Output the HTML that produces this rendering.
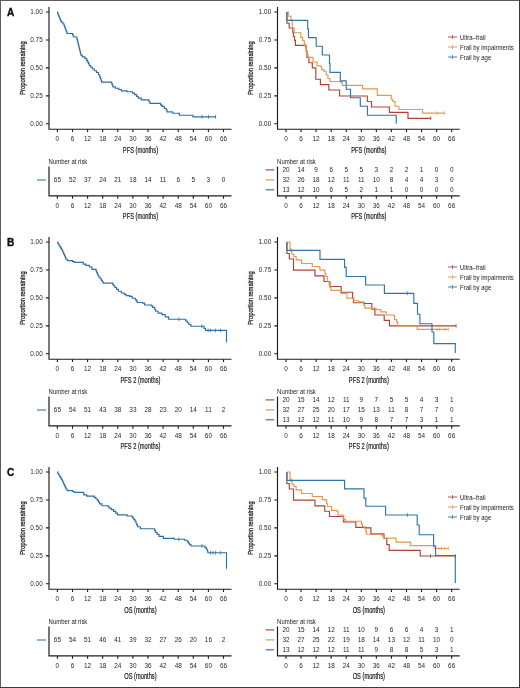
<!DOCTYPE html>
<html><head><meta charset="utf-8"><style>
html,body{margin:0;padding:0;background:#fff;}
svg{display:block;will-change:transform;}
text{font-family:"Liberation Sans", sans-serif;}
</style></head><body>
<svg width="520" height="688" viewBox="0 0 520 688">
<rect x="0" y="0" width="520" height="688" fill="#fff"/>
<text x="6.9" y="15.9" font-size="10.1" font-weight="bold" fill="#111" stroke="#111" stroke-width="0.35">A</text>
<path d="M49 7 V129.25 H231.5" fill="none" stroke="#1c1c1c" stroke-width="1.15"/>
<text x="42.7" y="14.3" font-size="6.35" text-anchor="end" fill="#282828" font-weight="normal" >1.00</text>
<text x="42.7" y="42.25" font-size="6.35" text-anchor="end" fill="#282828" font-weight="normal" >0.75</text>
<text x="42.7" y="70.2" font-size="6.35" text-anchor="end" fill="#282828" font-weight="normal" >0.50</text>
<text x="42.7" y="98.15" font-size="6.35" text-anchor="end" fill="#282828" font-weight="normal" >0.25</text>
<text x="42.7" y="126.1" font-size="6.35" text-anchor="end" fill="#282828" font-weight="normal" >0.00</text>
<text x="57.4" y="141" font-size="6.4" text-anchor="middle" fill="#282828" font-weight="normal" >0</text>
<text x="72.5" y="141" font-size="6.4" text-anchor="middle" fill="#282828" font-weight="normal" >6</text>
<text x="87.6" y="141" font-size="6.4" text-anchor="middle" fill="#282828" font-weight="normal" >12</text>
<text x="102.7" y="141" font-size="6.4" text-anchor="middle" fill="#282828" font-weight="normal" >18</text>
<text x="117.8" y="141" font-size="6.4" text-anchor="middle" fill="#282828" font-weight="normal" >24</text>
<text x="132.9" y="141" font-size="6.4" text-anchor="middle" fill="#282828" font-weight="normal" >30</text>
<text x="148" y="141" font-size="6.4" text-anchor="middle" fill="#282828" font-weight="normal" >36</text>
<text x="163.1" y="141" font-size="6.4" text-anchor="middle" fill="#282828" font-weight="normal" >42</text>
<text x="178.2" y="141" font-size="6.4" text-anchor="middle" fill="#282828" font-weight="normal" >48</text>
<text x="193.3" y="141" font-size="6.4" text-anchor="middle" fill="#282828" font-weight="normal" >54</text>
<text x="208.4" y="141" font-size="6.4" text-anchor="middle" fill="#282828" font-weight="normal" >60</text>
<text x="223.5" y="141" font-size="6.4" text-anchor="middle" fill="#282828" font-weight="normal" >66</text>
<path d="M45.8 12 H49 M45.8 39.95 H49 M45.8 67.9 H49 M45.8 95.85 H49 M45.8 123.8 H49 M57.4 129.25 V132.05 M72.5 129.25 V132.05 M87.6 129.25 V132.05 M102.7 129.25 V132.05 M117.8 129.25 V132.05 M132.9 129.25 V132.05 M148 129.25 V132.05 M163.1 129.25 V132.05 M178.2 129.25 V132.05 M193.3 129.25 V132.05 M208.4 129.25 V132.05 M223.5 129.25 V132.05" stroke="#1c1c1c" stroke-width="1.1" fill="none"/>
<text transform="translate(140.45 152.6) scale(0.68 1)" x="0" y="0" font-size="8.4" text-anchor="middle" fill="#222" font-weight="normal" stroke="#222" stroke-width="0.22">PFS (months)</text>
<text transform="translate(24.7 68) rotate(-90) scale(0.737 1)" font-size="7.85" text-anchor="middle" fill="#222" stroke="#222" stroke-width="0.3">Proportion remaining</text>
<path d="M57.3 11.9 H57.62 V13.48 H58.27 V15.07 H58.92 V16.65 H59.58 V18.23 H60.23 V19.82 H60.88 V21.4 H61.2 H61.85 V22.7 H63.15 V24 H63.8 H64.09 V25.58 H64.67 V27.17 H65.26 V28.75 H65.84 V30.33 H66.42 V31.92 H67.01 V33.5 H67.3 H72.5 V34.4 H72.92 V35.7 H73.78 V37 H74.2 H76.8 V37.9 H77.02 V39.63 H77.44 V41.36 H77.88 V43.09 H78.3 V44.82 H78.73 V46.55 H79.16 V48.28 H79.59 V50.01 H80.02 V51.74 H80.45 V53.47 H80.88 V55.2 H81.1 H82.4 V56.9 H85 V58.6 H86.3 H86.74 V60.33 H87.61 V62.05 H88.49 V63.77 H89.36 V65.5 H89.8 H90.67 V67.25 H92.42 V69 H93.3 H94.38 V70.75 H96.52 V72.5 H97.6 H98.45 V74.7 H99.3 H99.62 V76.55 H100.28 V78.4 H100.92 V80.25 H101.58 V82.1 H101.9 H111.4 H111.7 V83.67 H112.3 V85.23 H112.9 V86.8 H113.2 H115.35 V88.2 H117.5 H118.8 V89.5 H121.4 V90.8 H122.7 H127 V91.7 H131.3 H132.4 V93.15 H134.6 V94.6 H135.7 H136.55 V96.35 H138.25 V98.1 H139.1 H141.25 V99.8 H143.4 H148.6 V100.1 H149.05 V101.7 H149.95 V103.3 H150.4 H159.9 H160.6 V104.85 H162 V106.4 H162.7 H164.35 V108.5 H166 H166.35 V110.15 H167.05 V111.8 H167.4 H172.1 V112.2 H172.8 V113.2 H173.5 H178.8 V113.4 H179.35 V115.2 H179.9 H193 V116.8 H215.9" fill="none" stroke="#2c6fa8" stroke-width="1.15" stroke-linejoin="miter"/>
<path d="M202 114.9 V118.7 M208.5 114.9 V118.7 M215.6 114.9 V118.7" stroke="#2c6fa8" stroke-width="0.75" fill="none"/>
<path d="M277.5 7 V129.25 H459.7" fill="none" stroke="#1c1c1c" stroke-width="1.15"/>
<text x="271.2" y="14.3" font-size="6.35" text-anchor="end" fill="#282828" font-weight="normal" >1.00</text>
<text x="271.2" y="42.25" font-size="6.35" text-anchor="end" fill="#282828" font-weight="normal" >0.75</text>
<text x="271.2" y="70.2" font-size="6.35" text-anchor="end" fill="#282828" font-weight="normal" >0.50</text>
<text x="271.2" y="98.15" font-size="6.35" text-anchor="end" fill="#282828" font-weight="normal" >0.25</text>
<text x="271.2" y="126.1" font-size="6.35" text-anchor="end" fill="#282828" font-weight="normal" >0.00</text>
<text x="286" y="141" font-size="6.4" text-anchor="middle" fill="#282828" font-weight="normal" >0</text>
<text x="301.06" y="141" font-size="6.4" text-anchor="middle" fill="#282828" font-weight="normal" >6</text>
<text x="316.12" y="141" font-size="6.4" text-anchor="middle" fill="#282828" font-weight="normal" >12</text>
<text x="331.18" y="141" font-size="6.4" text-anchor="middle" fill="#282828" font-weight="normal" >18</text>
<text x="346.24" y="141" font-size="6.4" text-anchor="middle" fill="#282828" font-weight="normal" >24</text>
<text x="361.3" y="141" font-size="6.4" text-anchor="middle" fill="#282828" font-weight="normal" >30</text>
<text x="376.36" y="141" font-size="6.4" text-anchor="middle" fill="#282828" font-weight="normal" >36</text>
<text x="391.42" y="141" font-size="6.4" text-anchor="middle" fill="#282828" font-weight="normal" >42</text>
<text x="406.48" y="141" font-size="6.4" text-anchor="middle" fill="#282828" font-weight="normal" >48</text>
<text x="421.54" y="141" font-size="6.4" text-anchor="middle" fill="#282828" font-weight="normal" >54</text>
<text x="436.6" y="141" font-size="6.4" text-anchor="middle" fill="#282828" font-weight="normal" >60</text>
<text x="451.66" y="141" font-size="6.4" text-anchor="middle" fill="#282828" font-weight="normal" >66</text>
<path d="M274.3 12 H277.5 M274.3 39.95 H277.5 M274.3 67.9 H277.5 M274.3 95.85 H277.5 M274.3 123.8 H277.5 M286 129.25 V132.05 M301.06 129.25 V132.05 M316.12 129.25 V132.05 M331.18 129.25 V132.05 M346.24 129.25 V132.05 M361.3 129.25 V132.05 M376.36 129.25 V132.05 M391.42 129.25 V132.05 M406.48 129.25 V132.05 M421.54 129.25 V132.05 M436.6 129.25 V132.05 M451.66 129.25 V132.05" stroke="#1c1c1c" stroke-width="1.1" fill="none"/>
<text transform="translate(368.83 152.6) scale(0.68 1)" x="0" y="0" font-size="8.4" text-anchor="middle" fill="#222" font-weight="normal" stroke="#222" stroke-width="0.22">PFS (months)</text>
<text transform="translate(253.2 68) rotate(-90) scale(0.737 1)" font-size="7.85" text-anchor="middle" fill="#222" stroke="#222" stroke-width="0.3">Proportion remaining</text>
<path d="M286.9 12 V23.2 H289.2 V28 H292.3 H292.68 V32.25 H293.43 V36.5 H293.8 H294.6 V40.4 H295.4 V45.3 H305.4 H306.15 V51.2 H306.9 V57.3 H308.85 V62.7 H310 H312.3 V63.5 V67.8 H315.4 V68 V68 H315.8 V79.2 H320.4 V84.6 H328.8 V90 H339.6 V96 H367.3 V101.5 H371.5 V107 H389.4 V112.3 H408 V112.5 V118.3 H430.8" fill="none" stroke="#aa4438" stroke-width="1.15" stroke-linejoin="miter"/>
<path d="M430.8 116.4 V120.2" stroke="#aa4438" stroke-width="0.75" fill="none"/>
<path d="M286.9 12 H288.25 V16.2 H290.95 V20.4 H292.3 V28 H294.2 V32.7 H295.4 H300.8 V37.3 H302.65 V40.4 H303.8 H304.2 V43.1 H305 V45.8 H305.4 H305.77 V48.5 H306.52 V51.2 H306.9 H307.3 V54.25 H308.1 V57.3 H308.5 H313 V58 V62 H317 V62.7 V65.8 H320.8 V66.5 H321.55 V69.6 H322.3 H323.85 V71.2 H325.4 H326.2 V75 H327 H327.95 V78.25 H329.85 V81.5 H330.8 H340.8 V82.3 H342.3 V85.4 H343.8 H362.6 V88.8 H377.3 V95.4 H391.2 V99.2 H392.8 V101.5 H393.8 H395 V106.2 H396.2 H398.85 V109.5 H401.5 H422.5 V113.1 H444.6" fill="none" stroke="#e09a4e" stroke-width="1.15" stroke-linejoin="miter"/>
<path d="M436.9 111.2 V115 M444.6 111.2 V115" stroke="#e09a4e" stroke-width="0.75" fill="none"/>
<path d="M286.9 12 V20.4 H307.7 V28.8 V28.8 H308.5 V37.6 H316.2 V46.2 H322.3 V55 H329.5 V63.5 V63.5 H330 V72.3 H340.3 V80.8 H346.2 V89.2 H350.5 V97.7 H360.3 V106.2 H367.5 V115.2 H396.2 V123.8" fill="none" stroke="#2f74ae" stroke-width="1.15" stroke-linejoin="miter"/>
<path d="M448 37 H457" stroke="#aa4438" stroke-width="0.9" fill="none"/><path d="M452.5 35 V39" stroke="#aa4438" stroke-width="0.8" fill="none"/>
<text transform="translate(460 39.7) scale(0.935 1)" x="0" y="0" font-size="6.4" text-anchor="start" fill="#222" font-weight="normal" >Ultra–frail</text>
<path d="M448 47 H457" stroke="#e09a4e" stroke-width="0.9" fill="none"/><path d="M452.5 45 V49" stroke="#e09a4e" stroke-width="0.8" fill="none"/>
<text transform="translate(460 49.7) scale(0.935 1)" x="0" y="0" font-size="6.4" text-anchor="start" fill="#222" font-weight="normal" >Frail by impairments</text>
<path d="M448 57 H457" stroke="#2f74ae" stroke-width="0.9" fill="none"/><path d="M452.5 55 V59" stroke="#2f74ae" stroke-width="0.8" fill="none"/>
<text transform="translate(460 59.7) scale(0.935 1)" x="0" y="0" font-size="6.4" text-anchor="start" fill="#222" font-weight="normal" >Frail by age</text>
<path d="M49 166.5 V195.9 H231.5" fill="none" stroke="#1c1c1c" stroke-width="1.2"/>
<text x="57.4" y="207.8" font-size="6.4" text-anchor="middle" fill="#282828" font-weight="normal" >0</text>
<text x="72.5" y="207.8" font-size="6.4" text-anchor="middle" fill="#282828" font-weight="normal" >6</text>
<text x="87.6" y="207.8" font-size="6.4" text-anchor="middle" fill="#282828" font-weight="normal" >12</text>
<text x="102.7" y="207.8" font-size="6.4" text-anchor="middle" fill="#282828" font-weight="normal" >18</text>
<text x="117.8" y="207.8" font-size="6.4" text-anchor="middle" fill="#282828" font-weight="normal" >24</text>
<text x="132.9" y="207.8" font-size="6.4" text-anchor="middle" fill="#282828" font-weight="normal" >30</text>
<text x="148" y="207.8" font-size="6.4" text-anchor="middle" fill="#282828" font-weight="normal" >36</text>
<text x="163.1" y="207.8" font-size="6.4" text-anchor="middle" fill="#282828" font-weight="normal" >42</text>
<text x="178.2" y="207.8" font-size="6.4" text-anchor="middle" fill="#282828" font-weight="normal" >48</text>
<text x="193.3" y="207.8" font-size="6.4" text-anchor="middle" fill="#282828" font-weight="normal" >54</text>
<text x="208.4" y="207.8" font-size="6.4" text-anchor="middle" fill="#282828" font-weight="normal" >60</text>
<text x="223.5" y="207.8" font-size="6.4" text-anchor="middle" fill="#282828" font-weight="normal" >66</text>
<path d="M57.4 195.9 V198.8 M72.5 195.9 V198.8 M87.6 195.9 V198.8 M102.7 195.9 V198.8 M117.8 195.9 V198.8 M132.9 195.9 V198.8 M148 195.9 V198.8 M163.1 195.9 V198.8 M178.2 195.9 V198.8 M193.3 195.9 V198.8 M208.4 195.9 V198.8 M223.5 195.9 V198.8" stroke="#1c1c1c" stroke-width="1.1" fill="none"/>
<text transform="translate(48.6 163.6) scale(0.905 1)" x="0" y="0" font-size="6.6" text-anchor="start" fill="#222" font-weight="normal" >Number at risk</text>
<path d="M37 180 H46" stroke="#4f7fae" stroke-width="1.2"/>
<text x="57.4" y="182.3" font-size="6.4" text-anchor="middle" fill="#282828" font-weight="normal" >65</text>
<text x="72.5" y="182.3" font-size="6.4" text-anchor="middle" fill="#282828" font-weight="normal" >52</text>
<text x="87.6" y="182.3" font-size="6.4" text-anchor="middle" fill="#282828" font-weight="normal" >37</text>
<text x="102.7" y="182.3" font-size="6.4" text-anchor="middle" fill="#282828" font-weight="normal" >24</text>
<text x="117.8" y="182.3" font-size="6.4" text-anchor="middle" fill="#282828" font-weight="normal" >21</text>
<text x="132.9" y="182.3" font-size="6.4" text-anchor="middle" fill="#282828" font-weight="normal" >18</text>
<text x="148" y="182.3" font-size="6.4" text-anchor="middle" fill="#282828" font-weight="normal" >14</text>
<text x="163.1" y="182.3" font-size="6.4" text-anchor="middle" fill="#282828" font-weight="normal" >11</text>
<text x="178.2" y="182.3" font-size="6.4" text-anchor="middle" fill="#282828" font-weight="normal" >6</text>
<text x="193.3" y="182.3" font-size="6.4" text-anchor="middle" fill="#282828" font-weight="normal" >5</text>
<text x="208.4" y="182.3" font-size="6.4" text-anchor="middle" fill="#282828" font-weight="normal" >3</text>
<text x="223.5" y="182.3" font-size="6.4" text-anchor="middle" fill="#282828" font-weight="normal" >0</text>
<text transform="translate(140.45 219.1) scale(0.68 1)" x="0" y="0" font-size="8.4" text-anchor="middle" fill="#222" font-weight="normal" stroke="#222" stroke-width="0.22">PFS (months)</text>
<path d="M277.5 166.5 V195.9 H459.7" fill="none" stroke="#1c1c1c" stroke-width="1.2"/>
<text x="286" y="207.8" font-size="6.4" text-anchor="middle" fill="#282828" font-weight="normal" >0</text>
<text x="301.06" y="207.8" font-size="6.4" text-anchor="middle" fill="#282828" font-weight="normal" >6</text>
<text x="316.12" y="207.8" font-size="6.4" text-anchor="middle" fill="#282828" font-weight="normal" >12</text>
<text x="331.18" y="207.8" font-size="6.4" text-anchor="middle" fill="#282828" font-weight="normal" >18</text>
<text x="346.24" y="207.8" font-size="6.4" text-anchor="middle" fill="#282828" font-weight="normal" >24</text>
<text x="361.3" y="207.8" font-size="6.4" text-anchor="middle" fill="#282828" font-weight="normal" >30</text>
<text x="376.36" y="207.8" font-size="6.4" text-anchor="middle" fill="#282828" font-weight="normal" >36</text>
<text x="391.42" y="207.8" font-size="6.4" text-anchor="middle" fill="#282828" font-weight="normal" >42</text>
<text x="406.48" y="207.8" font-size="6.4" text-anchor="middle" fill="#282828" font-weight="normal" >48</text>
<text x="421.54" y="207.8" font-size="6.4" text-anchor="middle" fill="#282828" font-weight="normal" >54</text>
<text x="436.6" y="207.8" font-size="6.4" text-anchor="middle" fill="#282828" font-weight="normal" >60</text>
<text x="451.66" y="207.8" font-size="6.4" text-anchor="middle" fill="#282828" font-weight="normal" >66</text>
<path d="M286 195.9 V198.8 M301.06 195.9 V198.8 M316.12 195.9 V198.8 M331.18 195.9 V198.8 M346.24 195.9 V198.8 M361.3 195.9 V198.8 M376.36 195.9 V198.8 M391.42 195.9 V198.8 M406.48 195.9 V198.8 M421.54 195.9 V198.8 M436.6 195.9 V198.8 M451.66 195.9 V198.8" stroke="#1c1c1c" stroke-width="1.1" fill="none"/>
<text transform="translate(277.1 163.6) scale(0.905 1)" x="0" y="0" font-size="6.6" text-anchor="start" fill="#222" font-weight="normal" >Number at risk</text>
<path d="M265.7 169.9 H274.2" stroke="#9c5046" stroke-width="1.2"/>
<text x="286" y="172.2" font-size="6.4" text-anchor="middle" fill="#282828" font-weight="normal" >20</text>
<text x="301.06" y="172.2" font-size="6.4" text-anchor="middle" fill="#282828" font-weight="normal" >14</text>
<text x="316.12" y="172.2" font-size="6.4" text-anchor="middle" fill="#282828" font-weight="normal" >9</text>
<text x="331.18" y="172.2" font-size="6.4" text-anchor="middle" fill="#282828" font-weight="normal" >6</text>
<text x="346.24" y="172.2" font-size="6.4" text-anchor="middle" fill="#282828" font-weight="normal" >5</text>
<text x="361.3" y="172.2" font-size="6.4" text-anchor="middle" fill="#282828" font-weight="normal" >5</text>
<text x="376.36" y="172.2" font-size="6.4" text-anchor="middle" fill="#282828" font-weight="normal" >3</text>
<text x="391.42" y="172.2" font-size="6.4" text-anchor="middle" fill="#282828" font-weight="normal" >2</text>
<text x="406.48" y="172.2" font-size="6.4" text-anchor="middle" fill="#282828" font-weight="normal" >2</text>
<text x="421.54" y="172.2" font-size="6.4" text-anchor="middle" fill="#282828" font-weight="normal" >1</text>
<text x="436.6" y="172.2" font-size="6.4" text-anchor="middle" fill="#282828" font-weight="normal" >0</text>
<text x="451.66" y="172.2" font-size="6.4" text-anchor="middle" fill="#282828" font-weight="normal" >0</text>
<path d="M265.7 179.9 H274.2" stroke="#d69c58" stroke-width="1.2"/>
<text x="286" y="182.2" font-size="6.4" text-anchor="middle" fill="#282828" font-weight="normal" >32</text>
<text x="301.06" y="182.2" font-size="6.4" text-anchor="middle" fill="#282828" font-weight="normal" >26</text>
<text x="316.12" y="182.2" font-size="6.4" text-anchor="middle" fill="#282828" font-weight="normal" >18</text>
<text x="331.18" y="182.2" font-size="6.4" text-anchor="middle" fill="#282828" font-weight="normal" >12</text>
<text x="346.24" y="182.2" font-size="6.4" text-anchor="middle" fill="#282828" font-weight="normal" >11</text>
<text x="361.3" y="182.2" font-size="6.4" text-anchor="middle" fill="#282828" font-weight="normal" >11</text>
<text x="376.36" y="182.2" font-size="6.4" text-anchor="middle" fill="#282828" font-weight="normal" >10</text>
<text x="391.42" y="182.2" font-size="6.4" text-anchor="middle" fill="#282828" font-weight="normal" >8</text>
<text x="406.48" y="182.2" font-size="6.4" text-anchor="middle" fill="#282828" font-weight="normal" >4</text>
<text x="421.54" y="182.2" font-size="6.4" text-anchor="middle" fill="#282828" font-weight="normal" >4</text>
<text x="436.6" y="182.2" font-size="6.4" text-anchor="middle" fill="#282828" font-weight="normal" >3</text>
<text x="451.66" y="182.2" font-size="6.4" text-anchor="middle" fill="#282828" font-weight="normal" >0</text>
<path d="M265.7 189.8 H274.2" stroke="#47719a" stroke-width="1.2"/>
<text x="286" y="192.1" font-size="6.4" text-anchor="middle" fill="#282828" font-weight="normal" >13</text>
<text x="301.06" y="192.1" font-size="6.4" text-anchor="middle" fill="#282828" font-weight="normal" >12</text>
<text x="316.12" y="192.1" font-size="6.4" text-anchor="middle" fill="#282828" font-weight="normal" >10</text>
<text x="331.18" y="192.1" font-size="6.4" text-anchor="middle" fill="#282828" font-weight="normal" >6</text>
<text x="346.24" y="192.1" font-size="6.4" text-anchor="middle" fill="#282828" font-weight="normal" >5</text>
<text x="361.3" y="192.1" font-size="6.4" text-anchor="middle" fill="#282828" font-weight="normal" >2</text>
<text x="376.36" y="192.1" font-size="6.4" text-anchor="middle" fill="#282828" font-weight="normal" >1</text>
<text x="391.42" y="192.1" font-size="6.4" text-anchor="middle" fill="#282828" font-weight="normal" >1</text>
<text x="406.48" y="192.1" font-size="6.4" text-anchor="middle" fill="#282828" font-weight="normal" >0</text>
<text x="421.54" y="192.1" font-size="6.4" text-anchor="middle" fill="#282828" font-weight="normal" >0</text>
<text x="436.6" y="192.1" font-size="6.4" text-anchor="middle" fill="#282828" font-weight="normal" >0</text>
<text x="451.66" y="192.1" font-size="6.4" text-anchor="middle" fill="#282828" font-weight="normal" >0</text>
<text transform="translate(368.83 219.1) scale(0.68 1)" x="0" y="0" font-size="8.4" text-anchor="middle" fill="#222" font-weight="normal" stroke="#222" stroke-width="0.22">PFS (months)</text>
<text x="6.9" y="245.9" font-size="10.1" font-weight="bold" fill="#111" stroke="#111" stroke-width="0.35">B</text>
<path d="M49 237 V359.25 H231.5" fill="none" stroke="#1c1c1c" stroke-width="1.15"/>
<text x="42.7" y="244.3" font-size="6.35" text-anchor="end" fill="#282828" font-weight="normal" >1.00</text>
<text x="42.7" y="272.25" font-size="6.35" text-anchor="end" fill="#282828" font-weight="normal" >0.75</text>
<text x="42.7" y="300.2" font-size="6.35" text-anchor="end" fill="#282828" font-weight="normal" >0.50</text>
<text x="42.7" y="328.15" font-size="6.35" text-anchor="end" fill="#282828" font-weight="normal" >0.25</text>
<text x="42.7" y="356.1" font-size="6.35" text-anchor="end" fill="#282828" font-weight="normal" >0.00</text>
<text x="57.4" y="371" font-size="6.4" text-anchor="middle" fill="#282828" font-weight="normal" >0</text>
<text x="72.5" y="371" font-size="6.4" text-anchor="middle" fill="#282828" font-weight="normal" >6</text>
<text x="87.6" y="371" font-size="6.4" text-anchor="middle" fill="#282828" font-weight="normal" >12</text>
<text x="102.7" y="371" font-size="6.4" text-anchor="middle" fill="#282828" font-weight="normal" >18</text>
<text x="117.8" y="371" font-size="6.4" text-anchor="middle" fill="#282828" font-weight="normal" >24</text>
<text x="132.9" y="371" font-size="6.4" text-anchor="middle" fill="#282828" font-weight="normal" >30</text>
<text x="148" y="371" font-size="6.4" text-anchor="middle" fill="#282828" font-weight="normal" >36</text>
<text x="163.1" y="371" font-size="6.4" text-anchor="middle" fill="#282828" font-weight="normal" >42</text>
<text x="178.2" y="371" font-size="6.4" text-anchor="middle" fill="#282828" font-weight="normal" >48</text>
<text x="193.3" y="371" font-size="6.4" text-anchor="middle" fill="#282828" font-weight="normal" >54</text>
<text x="208.4" y="371" font-size="6.4" text-anchor="middle" fill="#282828" font-weight="normal" >60</text>
<text x="223.5" y="371" font-size="6.4" text-anchor="middle" fill="#282828" font-weight="normal" >66</text>
<path d="M45.8 242 H49 M45.8 269.95 H49 M45.8 297.9 H49 M45.8 325.85 H49 M45.8 353.8 H49 M57.4 359.25 V362.05 M72.5 359.25 V362.05 M87.6 359.25 V362.05 M102.7 359.25 V362.05 M117.8 359.25 V362.05 M132.9 359.25 V362.05 M148 359.25 V362.05 M163.1 359.25 V362.05 M178.2 359.25 V362.05 M193.3 359.25 V362.05 M208.4 359.25 V362.05 M223.5 359.25 V362.05" stroke="#1c1c1c" stroke-width="1.1" fill="none"/>
<text transform="translate(140.45 382.6) scale(0.68 1)" x="0" y="0" font-size="8.4" text-anchor="middle" fill="#222" font-weight="normal" stroke="#222" stroke-width="0.22">PFS 2 (months)</text>
<text transform="translate(24.7 298) rotate(-90) scale(0.737 1)" font-size="7.85" text-anchor="middle" fill="#222" stroke="#222" stroke-width="0.3">Proportion remaining</text>
<path d="M57.3 241.9 H57.78 V243.46 H58.74 V245.02 H59.7 V246.58 H60.66 V248.14 H61.62 V249.7 H62.1 H62.46 V251.28 H63.18 V252.87 H63.89 V254.45 H64.61 V256.03 H65.33 V257.62 H66.04 V259.2 H66.4 H67.3 V260.6 H68.2 H72.5 V261.5 H74.2 V262.3 H82 H83.3 V264.1 H84.6 H85.9 V265.3 H87.2 H89.35 V267 H91.5 H91.95 V269.3 H92.4 H95.8 V269.6 H96.12 V271.12 H96.78 V272.65 H97.42 V274.18 H98.08 V275.7 H98.4 H98.98 V277.23 H100.15 V278.77 H101.32 V280.3 H101.9 H102.33 V281.7 H103.17 V283.1 H103.6 H112.3 H112.72 V284.4 H113.58 V285.7 H114 H114.87 V287.53 H116.6 V289.37 H118.33 V291.2 H119.2 H121.35 V293 H123.5 H124.38 V294.3 H126.12 V295.6 H127 H129.6 V296.4 H132.2 V298.2 H134.8 H135.32 V299.63 H136.35 V301.07 H137.38 V302.5 H137.9 H142.7 V303.1 H144.6 V305 H146.5 H151.3 V305.8 H152.75 V307.3 H154.2 H154.7 V309.25 H155.7 V311.2 H156.2 H158.1 V313.1 H160 H161.9 V314.6 H163.8 H165.25 V316.9 H166.7 H168.65 V319.2 H170.6 H185 H185.72 V320.95 H187.18 V322.7 H187.9 H188.85 V324.45 H190.75 V326.2 H191.7 H203.3 H204.03 V328.3 H205.47 V330.4 H206.2 H226.5 V341.5" fill="none" stroke="#2c6fa8" stroke-width="1.15" stroke-linejoin="miter"/>
<path d="M178.8 317.3 V321.1 M201.9 324.3 V328.1 M208.1 328.5 V332.3 M210.4 328.5 V332.3 M215.4 328.5 V332.3 M220.6 328.5 V332.3 M226.5 339.1 V342.9" stroke="#2c6fa8" stroke-width="0.75" fill="none"/>
<path d="M277.5 237 V359.25 H459.7" fill="none" stroke="#1c1c1c" stroke-width="1.15"/>
<text x="271.2" y="244.3" font-size="6.35" text-anchor="end" fill="#282828" font-weight="normal" >1.00</text>
<text x="271.2" y="272.25" font-size="6.35" text-anchor="end" fill="#282828" font-weight="normal" >0.75</text>
<text x="271.2" y="300.2" font-size="6.35" text-anchor="end" fill="#282828" font-weight="normal" >0.50</text>
<text x="271.2" y="328.15" font-size="6.35" text-anchor="end" fill="#282828" font-weight="normal" >0.25</text>
<text x="271.2" y="356.1" font-size="6.35" text-anchor="end" fill="#282828" font-weight="normal" >0.00</text>
<text x="286" y="371" font-size="6.4" text-anchor="middle" fill="#282828" font-weight="normal" >0</text>
<text x="301.06" y="371" font-size="6.4" text-anchor="middle" fill="#282828" font-weight="normal" >6</text>
<text x="316.12" y="371" font-size="6.4" text-anchor="middle" fill="#282828" font-weight="normal" >12</text>
<text x="331.18" y="371" font-size="6.4" text-anchor="middle" fill="#282828" font-weight="normal" >18</text>
<text x="346.24" y="371" font-size="6.4" text-anchor="middle" fill="#282828" font-weight="normal" >24</text>
<text x="361.3" y="371" font-size="6.4" text-anchor="middle" fill="#282828" font-weight="normal" >30</text>
<text x="376.36" y="371" font-size="6.4" text-anchor="middle" fill="#282828" font-weight="normal" >36</text>
<text x="391.42" y="371" font-size="6.4" text-anchor="middle" fill="#282828" font-weight="normal" >42</text>
<text x="406.48" y="371" font-size="6.4" text-anchor="middle" fill="#282828" font-weight="normal" >48</text>
<text x="421.54" y="371" font-size="6.4" text-anchor="middle" fill="#282828" font-weight="normal" >54</text>
<text x="436.6" y="371" font-size="6.4" text-anchor="middle" fill="#282828" font-weight="normal" >60</text>
<text x="451.66" y="371" font-size="6.4" text-anchor="middle" fill="#282828" font-weight="normal" >66</text>
<path d="M274.3 242 H277.5 M274.3 269.95 H277.5 M274.3 297.9 H277.5 M274.3 325.85 H277.5 M274.3 353.8 H277.5 M286 359.25 V362.05 M301.06 359.25 V362.05 M316.12 359.25 V362.05 M331.18 359.25 V362.05 M346.24 359.25 V362.05 M361.3 359.25 V362.05 M376.36 359.25 V362.05 M391.42 359.25 V362.05 M406.48 359.25 V362.05 M421.54 359.25 V362.05 M436.6 359.25 V362.05 M451.66 359.25 V362.05" stroke="#1c1c1c" stroke-width="1.1" fill="none"/>
<text transform="translate(368.83 382.6) scale(0.68 1)" x="0" y="0" font-size="8.4" text-anchor="middle" fill="#222" font-weight="normal" stroke="#222" stroke-width="0.22">PFS 2 (months)</text>
<text transform="translate(253.2 298) rotate(-90) scale(0.737 1)" font-size="7.85" text-anchor="middle" fill="#222" stroke="#222" stroke-width="0.3">Proportion remaining</text>
<path d="M286.9 242 V253.5 H289.3 V259 H293.5 V270.1 H315 V275.8 H324 V281.5 H329.5 H330 V286.5 H330.5 H341.2 V292.2 H352.6 V298.1 H353.4 V302.7 H364.6 V302.9 V303.5 H371.8 V309.2 H374.9 V315 H384.2 V320.4 H389.4 V325.8 H456.1" fill="none" stroke="#aa4438" stroke-width="1.15" stroke-linejoin="miter"/>
<path d="M456.1 323.9 V327.7" stroke="#aa4438" stroke-width="0.75" fill="none"/>
<path d="M286.9 242 H290 V242.4 V248.8 H291.18 V251.5 H291.93 V254.2 H292.3 H293.85 V256.5 H295.4 H296.15 V259.9 H296.9 H301.5 V260.4 V263.5 H311.5 H312.3 V266.5 H313.1 H319.2 V267.3 H320 V270.1 H320.8 H324.6 V270.7 H325 V273.6 H325.8 V276.5 H326.2 H327.35 V281.2 H328.5 H329 V284.27 H330 V287.33 H331 V290.4 H331.5 H340.8 V293.5 H346.9 V294.2 V298.1 H353.1 H353.85 V300.7 H354.6 H358.8 V301.9 H363 H363.6 V305 H364.8 V308.1 H365.4 H370.8 H375.8 V309.6 H380.8 V311.9 H386.2 V312.7 V315 H393.8 V315.8 H394.6 V319.6 H395.4 H396.55 V321.9 H397.7 V326 H417.2 V329.4 H448.3" fill="none" stroke="#e09a4e" stroke-width="1.15" stroke-linejoin="miter"/>
<path d="M437.1 327.5 V331.3 M439.7 327.5 V331.3 M444.9 327.5 V331.3 M448.3 327.5 V331.3" stroke="#e09a4e" stroke-width="0.75" fill="none"/>
<path d="M286.9 242 V250.4 H320 V259.3 H344.6 V267.3 H346.2 V276.5 H365.6 V285 H384.4 V293.3 H413.8 V303.3 H417.5 V314.2 H419.9 V323.7 H432 V332 H433.8 V343.6 H455.3 V353.1" fill="none" stroke="#2f74ae" stroke-width="1.15" stroke-linejoin="miter"/>
<path d="M407.4 291.4 V295.2" stroke="#2f74ae" stroke-width="0.75" fill="none"/>
<path d="M448 267 H457" stroke="#aa4438" stroke-width="0.9" fill="none"/><path d="M452.5 265 V269" stroke="#aa4438" stroke-width="0.8" fill="none"/>
<text transform="translate(460 269.7) scale(0.935 1)" x="0" y="0" font-size="6.4" text-anchor="start" fill="#222" font-weight="normal" >Ultra–frail</text>
<path d="M448 277 H457" stroke="#e09a4e" stroke-width="0.9" fill="none"/><path d="M452.5 275 V279" stroke="#e09a4e" stroke-width="0.8" fill="none"/>
<text transform="translate(460 279.7) scale(0.935 1)" x="0" y="0" font-size="6.4" text-anchor="start" fill="#222" font-weight="normal" >Frail by impairments</text>
<path d="M448 287 H457" stroke="#2f74ae" stroke-width="0.9" fill="none"/><path d="M452.5 285 V289" stroke="#2f74ae" stroke-width="0.8" fill="none"/>
<text transform="translate(460 289.7) scale(0.935 1)" x="0" y="0" font-size="6.4" text-anchor="start" fill="#222" font-weight="normal" >Frail by age</text>
<path d="M49 396.5 V425.9 H231.5" fill="none" stroke="#1c1c1c" stroke-width="1.2"/>
<text x="57.4" y="437.8" font-size="6.4" text-anchor="middle" fill="#282828" font-weight="normal" >0</text>
<text x="72.5" y="437.8" font-size="6.4" text-anchor="middle" fill="#282828" font-weight="normal" >6</text>
<text x="87.6" y="437.8" font-size="6.4" text-anchor="middle" fill="#282828" font-weight="normal" >12</text>
<text x="102.7" y="437.8" font-size="6.4" text-anchor="middle" fill="#282828" font-weight="normal" >18</text>
<text x="117.8" y="437.8" font-size="6.4" text-anchor="middle" fill="#282828" font-weight="normal" >24</text>
<text x="132.9" y="437.8" font-size="6.4" text-anchor="middle" fill="#282828" font-weight="normal" >30</text>
<text x="148" y="437.8" font-size="6.4" text-anchor="middle" fill="#282828" font-weight="normal" >36</text>
<text x="163.1" y="437.8" font-size="6.4" text-anchor="middle" fill="#282828" font-weight="normal" >42</text>
<text x="178.2" y="437.8" font-size="6.4" text-anchor="middle" fill="#282828" font-weight="normal" >48</text>
<text x="193.3" y="437.8" font-size="6.4" text-anchor="middle" fill="#282828" font-weight="normal" >54</text>
<text x="208.4" y="437.8" font-size="6.4" text-anchor="middle" fill="#282828" font-weight="normal" >60</text>
<text x="223.5" y="437.8" font-size="6.4" text-anchor="middle" fill="#282828" font-weight="normal" >66</text>
<path d="M57.4 425.9 V428.8 M72.5 425.9 V428.8 M87.6 425.9 V428.8 M102.7 425.9 V428.8 M117.8 425.9 V428.8 M132.9 425.9 V428.8 M148 425.9 V428.8 M163.1 425.9 V428.8 M178.2 425.9 V428.8 M193.3 425.9 V428.8 M208.4 425.9 V428.8 M223.5 425.9 V428.8" stroke="#1c1c1c" stroke-width="1.1" fill="none"/>
<text transform="translate(48.6 393.6) scale(0.905 1)" x="0" y="0" font-size="6.6" text-anchor="start" fill="#222" font-weight="normal" >Number at risk</text>
<path d="M37 410 H46" stroke="#4f7fae" stroke-width="1.2"/>
<text x="57.4" y="412.3" font-size="6.4" text-anchor="middle" fill="#282828" font-weight="normal" >65</text>
<text x="72.5" y="412.3" font-size="6.4" text-anchor="middle" fill="#282828" font-weight="normal" >54</text>
<text x="87.6" y="412.3" font-size="6.4" text-anchor="middle" fill="#282828" font-weight="normal" >51</text>
<text x="102.7" y="412.3" font-size="6.4" text-anchor="middle" fill="#282828" font-weight="normal" >43</text>
<text x="117.8" y="412.3" font-size="6.4" text-anchor="middle" fill="#282828" font-weight="normal" >38</text>
<text x="132.9" y="412.3" font-size="6.4" text-anchor="middle" fill="#282828" font-weight="normal" >33</text>
<text x="148" y="412.3" font-size="6.4" text-anchor="middle" fill="#282828" font-weight="normal" >28</text>
<text x="163.1" y="412.3" font-size="6.4" text-anchor="middle" fill="#282828" font-weight="normal" >23</text>
<text x="178.2" y="412.3" font-size="6.4" text-anchor="middle" fill="#282828" font-weight="normal" >20</text>
<text x="193.3" y="412.3" font-size="6.4" text-anchor="middle" fill="#282828" font-weight="normal" >14</text>
<text x="208.4" y="412.3" font-size="6.4" text-anchor="middle" fill="#282828" font-weight="normal" >11</text>
<text x="223.5" y="412.3" font-size="6.4" text-anchor="middle" fill="#282828" font-weight="normal" >2</text>
<text transform="translate(140.45 449.1) scale(0.68 1)" x="0" y="0" font-size="8.4" text-anchor="middle" fill="#222" font-weight="normal" stroke="#222" stroke-width="0.22">PFS 2 (months)</text>
<path d="M277.5 396.5 V425.9 H459.7" fill="none" stroke="#1c1c1c" stroke-width="1.2"/>
<text x="286" y="437.8" font-size="6.4" text-anchor="middle" fill="#282828" font-weight="normal" >0</text>
<text x="301.06" y="437.8" font-size="6.4" text-anchor="middle" fill="#282828" font-weight="normal" >6</text>
<text x="316.12" y="437.8" font-size="6.4" text-anchor="middle" fill="#282828" font-weight="normal" >12</text>
<text x="331.18" y="437.8" font-size="6.4" text-anchor="middle" fill="#282828" font-weight="normal" >18</text>
<text x="346.24" y="437.8" font-size="6.4" text-anchor="middle" fill="#282828" font-weight="normal" >24</text>
<text x="361.3" y="437.8" font-size="6.4" text-anchor="middle" fill="#282828" font-weight="normal" >30</text>
<text x="376.36" y="437.8" font-size="6.4" text-anchor="middle" fill="#282828" font-weight="normal" >36</text>
<text x="391.42" y="437.8" font-size="6.4" text-anchor="middle" fill="#282828" font-weight="normal" >42</text>
<text x="406.48" y="437.8" font-size="6.4" text-anchor="middle" fill="#282828" font-weight="normal" >48</text>
<text x="421.54" y="437.8" font-size="6.4" text-anchor="middle" fill="#282828" font-weight="normal" >54</text>
<text x="436.6" y="437.8" font-size="6.4" text-anchor="middle" fill="#282828" font-weight="normal" >60</text>
<text x="451.66" y="437.8" font-size="6.4" text-anchor="middle" fill="#282828" font-weight="normal" >66</text>
<path d="M286 425.9 V428.8 M301.06 425.9 V428.8 M316.12 425.9 V428.8 M331.18 425.9 V428.8 M346.24 425.9 V428.8 M361.3 425.9 V428.8 M376.36 425.9 V428.8 M391.42 425.9 V428.8 M406.48 425.9 V428.8 M421.54 425.9 V428.8 M436.6 425.9 V428.8 M451.66 425.9 V428.8" stroke="#1c1c1c" stroke-width="1.1" fill="none"/>
<text transform="translate(277.1 393.6) scale(0.905 1)" x="0" y="0" font-size="6.6" text-anchor="start" fill="#222" font-weight="normal" >Number at risk</text>
<path d="M265.7 399.9 H274.2" stroke="#9c5046" stroke-width="1.2"/>
<text x="286" y="402.2" font-size="6.4" text-anchor="middle" fill="#282828" font-weight="normal" >20</text>
<text x="301.06" y="402.2" font-size="6.4" text-anchor="middle" fill="#282828" font-weight="normal" >15</text>
<text x="316.12" y="402.2" font-size="6.4" text-anchor="middle" fill="#282828" font-weight="normal" >14</text>
<text x="331.18" y="402.2" font-size="6.4" text-anchor="middle" fill="#282828" font-weight="normal" >12</text>
<text x="346.24" y="402.2" font-size="6.4" text-anchor="middle" fill="#282828" font-weight="normal" >11</text>
<text x="361.3" y="402.2" font-size="6.4" text-anchor="middle" fill="#282828" font-weight="normal" >9</text>
<text x="376.36" y="402.2" font-size="6.4" text-anchor="middle" fill="#282828" font-weight="normal" >7</text>
<text x="391.42" y="402.2" font-size="6.4" text-anchor="middle" fill="#282828" font-weight="normal" >5</text>
<text x="406.48" y="402.2" font-size="6.4" text-anchor="middle" fill="#282828" font-weight="normal" >5</text>
<text x="421.54" y="402.2" font-size="6.4" text-anchor="middle" fill="#282828" font-weight="normal" >4</text>
<text x="436.6" y="402.2" font-size="6.4" text-anchor="middle" fill="#282828" font-weight="normal" >3</text>
<text x="451.66" y="402.2" font-size="6.4" text-anchor="middle" fill="#282828" font-weight="normal" >1</text>
<path d="M265.7 409.9 H274.2" stroke="#d69c58" stroke-width="1.2"/>
<text x="286" y="412.2" font-size="6.4" text-anchor="middle" fill="#282828" font-weight="normal" >32</text>
<text x="301.06" y="412.2" font-size="6.4" text-anchor="middle" fill="#282828" font-weight="normal" >27</text>
<text x="316.12" y="412.2" font-size="6.4" text-anchor="middle" fill="#282828" font-weight="normal" >25</text>
<text x="331.18" y="412.2" font-size="6.4" text-anchor="middle" fill="#282828" font-weight="normal" >20</text>
<text x="346.24" y="412.2" font-size="6.4" text-anchor="middle" fill="#282828" font-weight="normal" >17</text>
<text x="361.3" y="412.2" font-size="6.4" text-anchor="middle" fill="#282828" font-weight="normal" >15</text>
<text x="376.36" y="412.2" font-size="6.4" text-anchor="middle" fill="#282828" font-weight="normal" >13</text>
<text x="391.42" y="412.2" font-size="6.4" text-anchor="middle" fill="#282828" font-weight="normal" >11</text>
<text x="406.48" y="412.2" font-size="6.4" text-anchor="middle" fill="#282828" font-weight="normal" >8</text>
<text x="421.54" y="412.2" font-size="6.4" text-anchor="middle" fill="#282828" font-weight="normal" >7</text>
<text x="436.6" y="412.2" font-size="6.4" text-anchor="middle" fill="#282828" font-weight="normal" >7</text>
<text x="451.66" y="412.2" font-size="6.4" text-anchor="middle" fill="#282828" font-weight="normal" >0</text>
<path d="M265.7 419.8 H274.2" stroke="#47719a" stroke-width="1.2"/>
<text x="286" y="422.1" font-size="6.4" text-anchor="middle" fill="#282828" font-weight="normal" >13</text>
<text x="301.06" y="422.1" font-size="6.4" text-anchor="middle" fill="#282828" font-weight="normal" >12</text>
<text x="316.12" y="422.1" font-size="6.4" text-anchor="middle" fill="#282828" font-weight="normal" >12</text>
<text x="331.18" y="422.1" font-size="6.4" text-anchor="middle" fill="#282828" font-weight="normal" >11</text>
<text x="346.24" y="422.1" font-size="6.4" text-anchor="middle" fill="#282828" font-weight="normal" >10</text>
<text x="361.3" y="422.1" font-size="6.4" text-anchor="middle" fill="#282828" font-weight="normal" >9</text>
<text x="376.36" y="422.1" font-size="6.4" text-anchor="middle" fill="#282828" font-weight="normal" >8</text>
<text x="391.42" y="422.1" font-size="6.4" text-anchor="middle" fill="#282828" font-weight="normal" >7</text>
<text x="406.48" y="422.1" font-size="6.4" text-anchor="middle" fill="#282828" font-weight="normal" >7</text>
<text x="421.54" y="422.1" font-size="6.4" text-anchor="middle" fill="#282828" font-weight="normal" >3</text>
<text x="436.6" y="422.1" font-size="6.4" text-anchor="middle" fill="#282828" font-weight="normal" >1</text>
<text x="451.66" y="422.1" font-size="6.4" text-anchor="middle" fill="#282828" font-weight="normal" >1</text>
<text transform="translate(368.83 449.1) scale(0.68 1)" x="0" y="0" font-size="8.4" text-anchor="middle" fill="#222" font-weight="normal" stroke="#222" stroke-width="0.22">PFS 2 (months)</text>
<text x="6.9" y="475.9" font-size="10.1" font-weight="bold" fill="#111" stroke="#111" stroke-width="0.35">C</text>
<path d="M49 467 V589.25 H231.5" fill="none" stroke="#1c1c1c" stroke-width="1.15"/>
<text x="42.7" y="474.3" font-size="6.35" text-anchor="end" fill="#282828" font-weight="normal" >1.00</text>
<text x="42.7" y="502.25" font-size="6.35" text-anchor="end" fill="#282828" font-weight="normal" >0.75</text>
<text x="42.7" y="530.2" font-size="6.35" text-anchor="end" fill="#282828" font-weight="normal" >0.50</text>
<text x="42.7" y="558.15" font-size="6.35" text-anchor="end" fill="#282828" font-weight="normal" >0.25</text>
<text x="42.7" y="586.1" font-size="6.35" text-anchor="end" fill="#282828" font-weight="normal" >0.00</text>
<text x="57.4" y="601" font-size="6.4" text-anchor="middle" fill="#282828" font-weight="normal" >0</text>
<text x="72.5" y="601" font-size="6.4" text-anchor="middle" fill="#282828" font-weight="normal" >6</text>
<text x="87.6" y="601" font-size="6.4" text-anchor="middle" fill="#282828" font-weight="normal" >12</text>
<text x="102.7" y="601" font-size="6.4" text-anchor="middle" fill="#282828" font-weight="normal" >18</text>
<text x="117.8" y="601" font-size="6.4" text-anchor="middle" fill="#282828" font-weight="normal" >24</text>
<text x="132.9" y="601" font-size="6.4" text-anchor="middle" fill="#282828" font-weight="normal" >30</text>
<text x="148" y="601" font-size="6.4" text-anchor="middle" fill="#282828" font-weight="normal" >36</text>
<text x="163.1" y="601" font-size="6.4" text-anchor="middle" fill="#282828" font-weight="normal" >42</text>
<text x="178.2" y="601" font-size="6.4" text-anchor="middle" fill="#282828" font-weight="normal" >48</text>
<text x="193.3" y="601" font-size="6.4" text-anchor="middle" fill="#282828" font-weight="normal" >54</text>
<text x="208.4" y="601" font-size="6.4" text-anchor="middle" fill="#282828" font-weight="normal" >60</text>
<text x="223.5" y="601" font-size="6.4" text-anchor="middle" fill="#282828" font-weight="normal" >66</text>
<path d="M45.8 472 H49 M45.8 499.95 H49 M45.8 527.9 H49 M45.8 555.85 H49 M45.8 583.8 H49 M57.4 589.25 V592.05 M72.5 589.25 V592.05 M87.6 589.25 V592.05 M102.7 589.25 V592.05 M117.8 589.25 V592.05 M132.9 589.25 V592.05 M148 589.25 V592.05 M163.1 589.25 V592.05 M178.2 589.25 V592.05 M193.3 589.25 V592.05 M208.4 589.25 V592.05 M223.5 589.25 V592.05" stroke="#1c1c1c" stroke-width="1.1" fill="none"/>
<text transform="translate(140.45 612.6) scale(0.68 1)" x="0" y="0" font-size="8.4" text-anchor="middle" fill="#222" font-weight="normal" stroke="#222" stroke-width="0.22">OS (months)</text>
<text transform="translate(24.7 528) rotate(-90) scale(0.737 1)" font-size="7.85" text-anchor="middle" fill="#222" stroke="#222" stroke-width="0.3">Proportion remaining</text>
<path d="M57.3 471.9 H57.78 V473.46 H58.74 V475.02 H59.7 V476.58 H60.66 V478.14 H61.62 V479.7 H62.1 H62.46 V481.28 H63.18 V482.87 H63.89 V484.45 H64.61 V486.03 H65.33 V487.62 H66.04 V489.2 H66.4 H67.3 V490.6 H68.2 H72.5 V491.5 H74.2 V492.3 H82 H83.75 V494.8 H85.5 H86.8 V496.1 H88.1 H93.3 H94.15 V497.4 H95.85 V498.7 H96.7 H97.28 V500.43 H98.45 V502.17 H99.62 V503.9 H100.2 H101.9 V505.7 H103.6 H108 V506.5 H109.08 V508.05 H111.22 V509.6 H112.3 H113.6 V511.4 H114.9 H115.75 V513.1 H117.45 V514.8 H118.3 H126.1 H127 V516 H127.9 H132.2 V516.6 H132.77 V518.13 H133.9 V519.67 H135.03 V521.2 H135.6 H135.98 V523.03 H136.75 V524.87 H137.52 V526.7 H137.9 H140.3 V528.7 H142.7 H154.2 H154.7 V530.6 H155.7 V532.5 H156.2 H157.15 V534.4 H159.05 V536.3 H160 H163.35 V538.3 H166.7 H174.4 V539.2 H182.1 H184.5 V540.2 H186.9 H187.38 V541.65 H188.33 V543.1 H188.8 H189.53 V544.55 H190.97 V546 H191.7 H204.2 H204.92 V547.6 H206.38 V549.2 H207.1 H207.35 V550.95 H207.85 V552.7 H208.1 H226.5 V568.1" fill="none" stroke="#2c6fa8" stroke-width="1.15" stroke-linejoin="miter"/>
<path d="M178.8 537.3 V541.1 M201.9 544.1 V547.9 M210.4 550.8 V554.6 M212.9 550.8 V554.6 M215.4 550.8 V554.6 M220.6 550.8 V554.6 M226.5 565.6 V569.4" stroke="#2c6fa8" stroke-width="0.75" fill="none"/>
<path d="M277.5 467 V589.25 H459.7" fill="none" stroke="#1c1c1c" stroke-width="1.15"/>
<text x="271.2" y="474.3" font-size="6.35" text-anchor="end" fill="#282828" font-weight="normal" >1.00</text>
<text x="271.2" y="502.25" font-size="6.35" text-anchor="end" fill="#282828" font-weight="normal" >0.75</text>
<text x="271.2" y="530.2" font-size="6.35" text-anchor="end" fill="#282828" font-weight="normal" >0.50</text>
<text x="271.2" y="558.15" font-size="6.35" text-anchor="end" fill="#282828" font-weight="normal" >0.25</text>
<text x="271.2" y="586.1" font-size="6.35" text-anchor="end" fill="#282828" font-weight="normal" >0.00</text>
<text x="286" y="601" font-size="6.4" text-anchor="middle" fill="#282828" font-weight="normal" >0</text>
<text x="301.06" y="601" font-size="6.4" text-anchor="middle" fill="#282828" font-weight="normal" >6</text>
<text x="316.12" y="601" font-size="6.4" text-anchor="middle" fill="#282828" font-weight="normal" >12</text>
<text x="331.18" y="601" font-size="6.4" text-anchor="middle" fill="#282828" font-weight="normal" >18</text>
<text x="346.24" y="601" font-size="6.4" text-anchor="middle" fill="#282828" font-weight="normal" >24</text>
<text x="361.3" y="601" font-size="6.4" text-anchor="middle" fill="#282828" font-weight="normal" >30</text>
<text x="376.36" y="601" font-size="6.4" text-anchor="middle" fill="#282828" font-weight="normal" >36</text>
<text x="391.42" y="601" font-size="6.4" text-anchor="middle" fill="#282828" font-weight="normal" >42</text>
<text x="406.48" y="601" font-size="6.4" text-anchor="middle" fill="#282828" font-weight="normal" >48</text>
<text x="421.54" y="601" font-size="6.4" text-anchor="middle" fill="#282828" font-weight="normal" >54</text>
<text x="436.6" y="601" font-size="6.4" text-anchor="middle" fill="#282828" font-weight="normal" >60</text>
<text x="451.66" y="601" font-size="6.4" text-anchor="middle" fill="#282828" font-weight="normal" >66</text>
<path d="M274.3 472 H277.5 M274.3 499.95 H277.5 M274.3 527.9 H277.5 M274.3 555.85 H277.5 M274.3 583.8 H277.5 M286 589.25 V592.05 M301.06 589.25 V592.05 M316.12 589.25 V592.05 M331.18 589.25 V592.05 M346.24 589.25 V592.05 M361.3 589.25 V592.05 M376.36 589.25 V592.05 M391.42 589.25 V592.05 M406.48 589.25 V592.05 M421.54 589.25 V592.05 M436.6 589.25 V592.05 M451.66 589.25 V592.05" stroke="#1c1c1c" stroke-width="1.1" fill="none"/>
<text transform="translate(368.83 612.6) scale(0.68 1)" x="0" y="0" font-size="8.4" text-anchor="middle" fill="#222" font-weight="normal" stroke="#222" stroke-width="0.22">OS (months)</text>
<text transform="translate(253.2 528) rotate(-90) scale(0.737 1)" font-size="7.85" text-anchor="middle" fill="#222" stroke="#222" stroke-width="0.3">Proportion remaining</text>
<path d="M286.9 472 V483.5 H289.3 V489 H293.5 V500.1 H315 V505.8 H324 H324.7 V511.2 H325.4 H329.5 V512 V516.5 H343.4 V521.9 H355.8 V527.3 H366.2 V527.8 H370.9 V528.1 V533.9 H384 V538.5 H386.8 V544.6 H389.2 V550.4 H420.2 V556 H455.3" fill="none" stroke="#aa4438" stroke-width="1.15" stroke-linejoin="miter"/>
<path d="M430.5 554.1 V557.9 M455.3 554.1 V557.9" stroke="#aa4438" stroke-width="0.75" fill="none"/>
<path d="M286.9 472 H290 V472.4 V478.8 H291.18 V481.5 H291.93 V484.2 H292.3 H293.85 V486.5 H295.4 H296.15 V489.9 H296.9 H301.5 V490.4 V493.5 H312.3 V496.5 H322.3 V499.6 H326.2 V500.4 H326.57 V503.45 H327.32 V506.5 H327.7 H330.8 H331.55 V510.4 H332.3 H336.9 V511.2 H338.05 V515 H339.2 H343.1 V515.8 H343.85 V519.6 H344.6 H345.4 V521.2 H346.2 H360.8 H361.35 V523.85 H362.45 V526.5 H363 H364.2 V528.1 H365.4 H365.77 V531.15 H366.52 V534.2 H366.9 H380 H381.55 V535.8 H383.1 H383.85 V538.1 H384.6 H396.2 V542.1 H410.5 V545.6 H434.8 V548.5 H448.3" fill="none" stroke="#e09a4e" stroke-width="1.15" stroke-linejoin="miter"/>
<path d="M438.8 546.6 V550.4 M441.4 546.6 V550.4 M444.9 546.6 V550.4 M448.3 546.6 V550.4" stroke="#e09a4e" stroke-width="0.75" fill="none"/>
<path d="M286.9 472 V480.4 H344.6 V488.8 H364 V498.1 H365.8 V506.2 H385.6 V515 H417.2 V525 H419.2 V534.7 H433.6 V546 H435.6 V555.5 H455.3 V583.1" fill="none" stroke="#2f74ae" stroke-width="1.15" stroke-linejoin="miter"/>
<path d="M407.4 513.1 V516.9" stroke="#2f74ae" stroke-width="0.75" fill="none"/>
<path d="M448 497 H457" stroke="#aa4438" stroke-width="0.9" fill="none"/><path d="M452.5 495 V499" stroke="#aa4438" stroke-width="0.8" fill="none"/>
<text transform="translate(460 499.7) scale(0.935 1)" x="0" y="0" font-size="6.4" text-anchor="start" fill="#222" font-weight="normal" >Ultra–frail</text>
<path d="M448 507 H457" stroke="#e09a4e" stroke-width="0.9" fill="none"/><path d="M452.5 505 V509" stroke="#e09a4e" stroke-width="0.8" fill="none"/>
<text transform="translate(460 509.7) scale(0.935 1)" x="0" y="0" font-size="6.4" text-anchor="start" fill="#222" font-weight="normal" >Frail by impairments</text>
<path d="M448 517 H457" stroke="#2f74ae" stroke-width="0.9" fill="none"/><path d="M452.5 515 V519" stroke="#2f74ae" stroke-width="0.8" fill="none"/>
<text transform="translate(460 519.7) scale(0.935 1)" x="0" y="0" font-size="6.4" text-anchor="start" fill="#222" font-weight="normal" >Frail by age</text>
<path d="M49 626.5 V655.9 H231.5" fill="none" stroke="#1c1c1c" stroke-width="1.2"/>
<text x="57.4" y="667.8" font-size="6.4" text-anchor="middle" fill="#282828" font-weight="normal" >0</text>
<text x="72.5" y="667.8" font-size="6.4" text-anchor="middle" fill="#282828" font-weight="normal" >6</text>
<text x="87.6" y="667.8" font-size="6.4" text-anchor="middle" fill="#282828" font-weight="normal" >12</text>
<text x="102.7" y="667.8" font-size="6.4" text-anchor="middle" fill="#282828" font-weight="normal" >18</text>
<text x="117.8" y="667.8" font-size="6.4" text-anchor="middle" fill="#282828" font-weight="normal" >24</text>
<text x="132.9" y="667.8" font-size="6.4" text-anchor="middle" fill="#282828" font-weight="normal" >30</text>
<text x="148" y="667.8" font-size="6.4" text-anchor="middle" fill="#282828" font-weight="normal" >36</text>
<text x="163.1" y="667.8" font-size="6.4" text-anchor="middle" fill="#282828" font-weight="normal" >42</text>
<text x="178.2" y="667.8" font-size="6.4" text-anchor="middle" fill="#282828" font-weight="normal" >48</text>
<text x="193.3" y="667.8" font-size="6.4" text-anchor="middle" fill="#282828" font-weight="normal" >54</text>
<text x="208.4" y="667.8" font-size="6.4" text-anchor="middle" fill="#282828" font-weight="normal" >60</text>
<text x="223.5" y="667.8" font-size="6.4" text-anchor="middle" fill="#282828" font-weight="normal" >66</text>
<path d="M57.4 655.9 V658.8 M72.5 655.9 V658.8 M87.6 655.9 V658.8 M102.7 655.9 V658.8 M117.8 655.9 V658.8 M132.9 655.9 V658.8 M148 655.9 V658.8 M163.1 655.9 V658.8 M178.2 655.9 V658.8 M193.3 655.9 V658.8 M208.4 655.9 V658.8 M223.5 655.9 V658.8" stroke="#1c1c1c" stroke-width="1.1" fill="none"/>
<text transform="translate(48.6 623.6) scale(0.905 1)" x="0" y="0" font-size="6.6" text-anchor="start" fill="#222" font-weight="normal" >Number at risk</text>
<path d="M37 640 H46" stroke="#4f7fae" stroke-width="1.2"/>
<text x="57.4" y="642.3" font-size="6.4" text-anchor="middle" fill="#282828" font-weight="normal" >65</text>
<text x="72.5" y="642.3" font-size="6.4" text-anchor="middle" fill="#282828" font-weight="normal" >54</text>
<text x="87.6" y="642.3" font-size="6.4" text-anchor="middle" fill="#282828" font-weight="normal" >51</text>
<text x="102.7" y="642.3" font-size="6.4" text-anchor="middle" fill="#282828" font-weight="normal" >46</text>
<text x="117.8" y="642.3" font-size="6.4" text-anchor="middle" fill="#282828" font-weight="normal" >41</text>
<text x="132.9" y="642.3" font-size="6.4" text-anchor="middle" fill="#282828" font-weight="normal" >39</text>
<text x="148" y="642.3" font-size="6.4" text-anchor="middle" fill="#282828" font-weight="normal" >32</text>
<text x="163.1" y="642.3" font-size="6.4" text-anchor="middle" fill="#282828" font-weight="normal" >27</text>
<text x="178.2" y="642.3" font-size="6.4" text-anchor="middle" fill="#282828" font-weight="normal" >26</text>
<text x="193.3" y="642.3" font-size="6.4" text-anchor="middle" fill="#282828" font-weight="normal" >20</text>
<text x="208.4" y="642.3" font-size="6.4" text-anchor="middle" fill="#282828" font-weight="normal" >16</text>
<text x="223.5" y="642.3" font-size="6.4" text-anchor="middle" fill="#282828" font-weight="normal" >2</text>
<text transform="translate(140.45 679.1) scale(0.68 1)" x="0" y="0" font-size="8.4" text-anchor="middle" fill="#222" font-weight="normal" stroke="#222" stroke-width="0.22">OS (months)</text>
<path d="M277.5 626.5 V655.9 H459.7" fill="none" stroke="#1c1c1c" stroke-width="1.2"/>
<text x="286" y="667.8" font-size="6.4" text-anchor="middle" fill="#282828" font-weight="normal" >0</text>
<text x="301.06" y="667.8" font-size="6.4" text-anchor="middle" fill="#282828" font-weight="normal" >6</text>
<text x="316.12" y="667.8" font-size="6.4" text-anchor="middle" fill="#282828" font-weight="normal" >12</text>
<text x="331.18" y="667.8" font-size="6.4" text-anchor="middle" fill="#282828" font-weight="normal" >18</text>
<text x="346.24" y="667.8" font-size="6.4" text-anchor="middle" fill="#282828" font-weight="normal" >24</text>
<text x="361.3" y="667.8" font-size="6.4" text-anchor="middle" fill="#282828" font-weight="normal" >30</text>
<text x="376.36" y="667.8" font-size="6.4" text-anchor="middle" fill="#282828" font-weight="normal" >36</text>
<text x="391.42" y="667.8" font-size="6.4" text-anchor="middle" fill="#282828" font-weight="normal" >42</text>
<text x="406.48" y="667.8" font-size="6.4" text-anchor="middle" fill="#282828" font-weight="normal" >48</text>
<text x="421.54" y="667.8" font-size="6.4" text-anchor="middle" fill="#282828" font-weight="normal" >54</text>
<text x="436.6" y="667.8" font-size="6.4" text-anchor="middle" fill="#282828" font-weight="normal" >60</text>
<text x="451.66" y="667.8" font-size="6.4" text-anchor="middle" fill="#282828" font-weight="normal" >66</text>
<path d="M286 655.9 V658.8 M301.06 655.9 V658.8 M316.12 655.9 V658.8 M331.18 655.9 V658.8 M346.24 655.9 V658.8 M361.3 655.9 V658.8 M376.36 655.9 V658.8 M391.42 655.9 V658.8 M406.48 655.9 V658.8 M421.54 655.9 V658.8 M436.6 655.9 V658.8 M451.66 655.9 V658.8" stroke="#1c1c1c" stroke-width="1.1" fill="none"/>
<text transform="translate(277.1 623.6) scale(0.905 1)" x="0" y="0" font-size="6.6" text-anchor="start" fill="#222" font-weight="normal" >Number at risk</text>
<path d="M265.7 629.9 H274.2" stroke="#9c5046" stroke-width="1.2"/>
<text x="286" y="632.2" font-size="6.4" text-anchor="middle" fill="#282828" font-weight="normal" >20</text>
<text x="301.06" y="632.2" font-size="6.4" text-anchor="middle" fill="#282828" font-weight="normal" >15</text>
<text x="316.12" y="632.2" font-size="6.4" text-anchor="middle" fill="#282828" font-weight="normal" >14</text>
<text x="331.18" y="632.2" font-size="6.4" text-anchor="middle" fill="#282828" font-weight="normal" >12</text>
<text x="346.24" y="632.2" font-size="6.4" text-anchor="middle" fill="#282828" font-weight="normal" >11</text>
<text x="361.3" y="632.2" font-size="6.4" text-anchor="middle" fill="#282828" font-weight="normal" >10</text>
<text x="376.36" y="632.2" font-size="6.4" text-anchor="middle" fill="#282828" font-weight="normal" >9</text>
<text x="391.42" y="632.2" font-size="6.4" text-anchor="middle" fill="#282828" font-weight="normal" >6</text>
<text x="406.48" y="632.2" font-size="6.4" text-anchor="middle" fill="#282828" font-weight="normal" >6</text>
<text x="421.54" y="632.2" font-size="6.4" text-anchor="middle" fill="#282828" font-weight="normal" >4</text>
<text x="436.6" y="632.2" font-size="6.4" text-anchor="middle" fill="#282828" font-weight="normal" >3</text>
<text x="451.66" y="632.2" font-size="6.4" text-anchor="middle" fill="#282828" font-weight="normal" >1</text>
<path d="M265.7 639.9 H274.2" stroke="#d69c58" stroke-width="1.2"/>
<text x="286" y="642.2" font-size="6.4" text-anchor="middle" fill="#282828" font-weight="normal" >32</text>
<text x="301.06" y="642.2" font-size="6.4" text-anchor="middle" fill="#282828" font-weight="normal" >27</text>
<text x="316.12" y="642.2" font-size="6.4" text-anchor="middle" fill="#282828" font-weight="normal" >25</text>
<text x="331.18" y="642.2" font-size="6.4" text-anchor="middle" fill="#282828" font-weight="normal" >22</text>
<text x="346.24" y="642.2" font-size="6.4" text-anchor="middle" fill="#282828" font-weight="normal" >19</text>
<text x="361.3" y="642.2" font-size="6.4" text-anchor="middle" fill="#282828" font-weight="normal" >18</text>
<text x="376.36" y="642.2" font-size="6.4" text-anchor="middle" fill="#282828" font-weight="normal" >14</text>
<text x="391.42" y="642.2" font-size="6.4" text-anchor="middle" fill="#282828" font-weight="normal" >13</text>
<text x="406.48" y="642.2" font-size="6.4" text-anchor="middle" fill="#282828" font-weight="normal" >12</text>
<text x="421.54" y="642.2" font-size="6.4" text-anchor="middle" fill="#282828" font-weight="normal" >11</text>
<text x="436.6" y="642.2" font-size="6.4" text-anchor="middle" fill="#282828" font-weight="normal" >10</text>
<text x="451.66" y="642.2" font-size="6.4" text-anchor="middle" fill="#282828" font-weight="normal" >0</text>
<path d="M265.7 649.8 H274.2" stroke="#47719a" stroke-width="1.2"/>
<text x="286" y="652.1" font-size="6.4" text-anchor="middle" fill="#282828" font-weight="normal" >13</text>
<text x="301.06" y="652.1" font-size="6.4" text-anchor="middle" fill="#282828" font-weight="normal" >12</text>
<text x="316.12" y="652.1" font-size="6.4" text-anchor="middle" fill="#282828" font-weight="normal" >12</text>
<text x="331.18" y="652.1" font-size="6.4" text-anchor="middle" fill="#282828" font-weight="normal" >12</text>
<text x="346.24" y="652.1" font-size="6.4" text-anchor="middle" fill="#282828" font-weight="normal" >11</text>
<text x="361.3" y="652.1" font-size="6.4" text-anchor="middle" fill="#282828" font-weight="normal" >11</text>
<text x="376.36" y="652.1" font-size="6.4" text-anchor="middle" fill="#282828" font-weight="normal" >9</text>
<text x="391.42" y="652.1" font-size="6.4" text-anchor="middle" fill="#282828" font-weight="normal" >8</text>
<text x="406.48" y="652.1" font-size="6.4" text-anchor="middle" fill="#282828" font-weight="normal" >8</text>
<text x="421.54" y="652.1" font-size="6.4" text-anchor="middle" fill="#282828" font-weight="normal" >5</text>
<text x="436.6" y="652.1" font-size="6.4" text-anchor="middle" fill="#282828" font-weight="normal" >3</text>
<text x="451.66" y="652.1" font-size="6.4" text-anchor="middle" fill="#282828" font-weight="normal" >1</text>
<text transform="translate(368.83 679.1) scale(0.68 1)" x="0" y="0" font-size="8.4" text-anchor="middle" fill="#222" font-weight="normal" stroke="#222" stroke-width="0.22">OS (months)</text>
<rect x="0" y="0" width="520" height="1" fill="#5c5c5c"/><rect x="0" y="0" width="1" height="688" fill="#5c5c5c"/><rect x="519" y="0" width="1" height="688" fill="#3a3a3a"/><rect x="0" y="687" width="520" height="1" fill="#3a3a3a"/>
</svg></body></html>
